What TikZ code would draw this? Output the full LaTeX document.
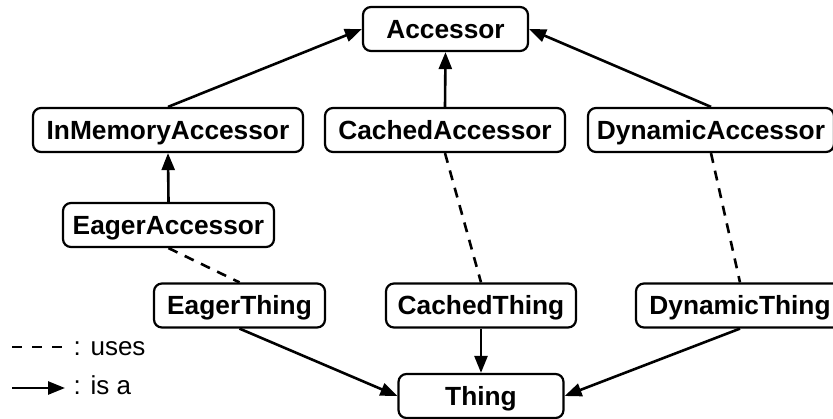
\documentclass[tikz,border=0pt]{standalone}
\usepackage{fontspec}
\setmainfont{Liberation Sans}
\usetikzlibrary{arrows.meta}
\begin{document}
\begin{tikzpicture}[x=1pt,y=-1pt,
  cls/.style={draw, line width=2.2pt, rounded corners=8pt, inner sep=0pt,
    minimum height=44pt, text height=18.8pt, text depth=0pt,
    font=\fontsize{26.3}{30}\selectfont\bfseries},
  isa/.style={line width=2.6pt, -{Triangle[length=17pt,width=13pt]}},
  uses/.style={line width=2.6pt, dash pattern=on 10pt off 8pt},
  legend/.style={anchor=base west, inner sep=0pt,
    font=\fontsize{26}{30}\selectfont}]
\useasboundingbox (0,0) rectangle (833,418);

% class boxes
\node[cls, minimum width=165pt] (acc)   at (445.5,29)  {Accessor};
\node[cls, minimum width=270pt] (ima)   at (168,130)   {InMemoryAccessor};
\node[cls, minimum width=240pt] (cacc)  at (445,130)   {CachedAccessor};
\node[cls, minimum width=246pt] (dacc)  at (711,130)   {DynamicAccessor};
\node[cls, minimum width=211pt] (eacc)  at (168.5,225) {EagerAccessor};
\node[cls, minimum width=171pt] (eth)   at (239.5,305.5) {EagerThing};
\node[cls, minimum width=190pt] (cth)   at (481,305.5) {CachedThing};
\node[cls, minimum width=208pt] (dth)   at (740,305.5) {DynamicThing};
\node[cls, minimum width=165pt] (thing) at (481,396)   {Thing};

% "is a" relations
\draw[isa] (ima.north)  -- (acc.west);
\draw[isa] (cacc.north) -- (acc.south);
\draw[isa] (dacc.north) -- (acc.east);
\draw[isa] (eacc.north) -- (ima.south);
\draw[isa] (eth.south)  -- (thing.west);
\draw[isa] (cth.south)  -- (thing.north);
\draw[isa] (dth.south)  -- (thing.east);

% "uses" relations
\draw[uses] (eacc.south) -- (eth.north);
\draw[uses] (cacc.south) -- (cth.north);
\draw[uses] (dacc.south) -- (dth.north);

% legend
\coordinate (u1) at (12,347);
\coordinate (u2) at (64,347);
\coordinate (a1) at (12,388);
\coordinate (a2) at (65,388);
\draw[uses, dash pattern=on 10pt off 10pt] (u1) -- (u2);
\draw[isa] (a1) -- (a2);
\node[legend] (lu) at (73.5,355) {: uses};
\node[legend] (la) at (73.5,394) {: is a};
\end{tikzpicture}
\end{document}
